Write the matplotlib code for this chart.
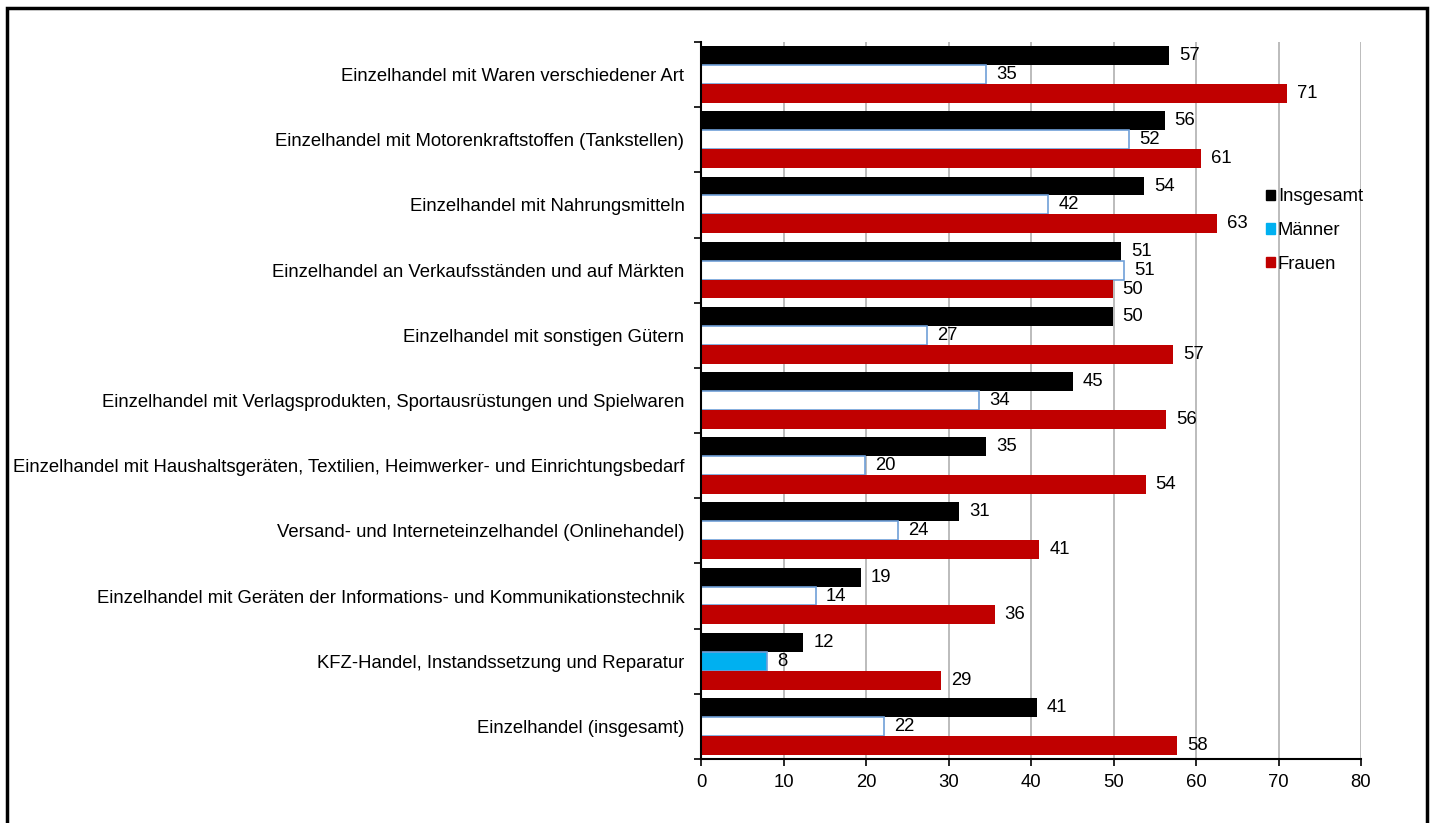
import matplotlib.pyplot as plt
import matplotlib.patches as mpatches
import numpy as np

plt.rcParams['font.family'] = ['Liberation Sans', 'DejaVu Sans']

# Kategorien von oben nach unten
kategorien = [
    "Einzelhandel mit Waren verschiedener Art",
    "Einzelhandel mit Motorenkraftstoffen (Tankstellen)",
    "Einzelhandel mit Nahrungsmitteln",
    "Einzelhandel an Verkaufsständen und auf Märkten",
    "Einzelhandel mit sonstigen Gütern",
    "Einzelhandel mit Verlagsprodukten, Sportausrüstungen und Spielwaren",
    "Einzelhandel mit Haushaltsgeräten, Textilien, Heimwerker- und Einrichtungsbedarf",
    "Versand- und Interneteinzelhandel (Onlinehandel)",
    "Einzelhandel mit Geräten der Informations- und Kommunikationstechnik",
    "KFZ-Handel, Instandssetzung und Reparatur",
    "Einzelhandel (insgesamt)",
]
insgesamt = [56.7, 56.2, 53.7, 50.9, 49.9, 45.1, 34.6, 31.3, 19.4, 12.4, 40.7]
maenner = [34.6, 51.9, 42.1, 51.3, 27.4, 33.7, 19.9, 23.9, 13.9, 8.0, 22.2]
frauen = [71.0, 60.6, 62.6, 49.9, 57.2, 56.4, 53.9, 41.0, 35.6, 29.1, 57.7]
x_ticks = [0, 10, 20, 30, 40, 50, 60, 70, 80]

fig = plt.figure(figsize=(14.31, 8.23), dpi=100)
ax = fig.add_axes([0.4899, 0.0778, 0.4612, 0.8712])

n = len(kategorien)
y = np.arange(n)[::-1]  # erste Kategorie oben
h = 0.29
fs = 13.3

schwarz = "#000000"
blau = "#00b0f0"
rot = "#c00000"

ax.barh(y + h, insgesamt, height=h, color=schwarz, zorder=3)
farben_m = [blau if k.startswith("KFZ") else "white" for k in kategorien]
ax.barh(y, maenner, height=h, color=farben_m, edgecolor="#6f9fd8", linewidth=1.2, zorder=3)
ax.barh(y - h, frauen, height=h, color=rot, zorder=3)

# Werte beschriften
for yi, a, m, f in zip(y, insgesamt, maenner, frauen):
    for off, v in ((h, a), (0, m), (-h, f)):
        ax.text(v + 1.2, yi + off, f"{v:.0f}", va="center", ha="left", fontsize=fs, zorder=4)

ax.set_xlim(0, 80)
ax.set_ylim(-0.5, n - 0.5)
ax.set_xticks(x_ticks)
ax.tick_params(axis="x", labelsize=fs, length=5, direction="out", width=1.2, pad=6)
ax.xaxis.grid(True, color="#b0b0b0", linewidth=1.2, zorder=0)

ax.set_yticks(y)
ax.set_yticklabels(kategorien, fontsize=fs)
ax.tick_params(axis="y", length=0, pad=12)
ax.set_yticks(np.arange(-0.5, n, 1), minor=True)
ax.tick_params(axis="y", which="minor", length=5, width=1.2)

for s in ("top", "right"):
    ax.spines[s].set_visible(False)
for s in ("left", "bottom"):
    ax.spines[s].set_linewidth(1.5)
    ax.spines[s].set_zorder(5)

handles = [
    mpatches.Patch(color=schwarz, label="Insgesamt"),
    mpatches.Patch(color=blau, label="Männer"),
    mpatches.Patch(color=rot, label="Frauen"),
]
fig.legend(handles=handles, loc="upper left", bbox_to_anchor=(0.8795, 0.780),
           frameon=False, fontsize=fs, handlelength=0.5, handleheight=0.5,
           handletextpad=0.15, labelspacing=0.9, borderaxespad=0)

# Rahmen um die Grafik
rahmen = mpatches.Rectangle((7 / 1431, -0.05), 1420 / 1431, 1.05 - 8 / 823,
                            transform=fig.transFigure, fill=False,
                            edgecolor="black", linewidth=2.5, clip_on=False)
fig.patches.append(rahmen)

fig.savefig("out.png", dpi=100)
